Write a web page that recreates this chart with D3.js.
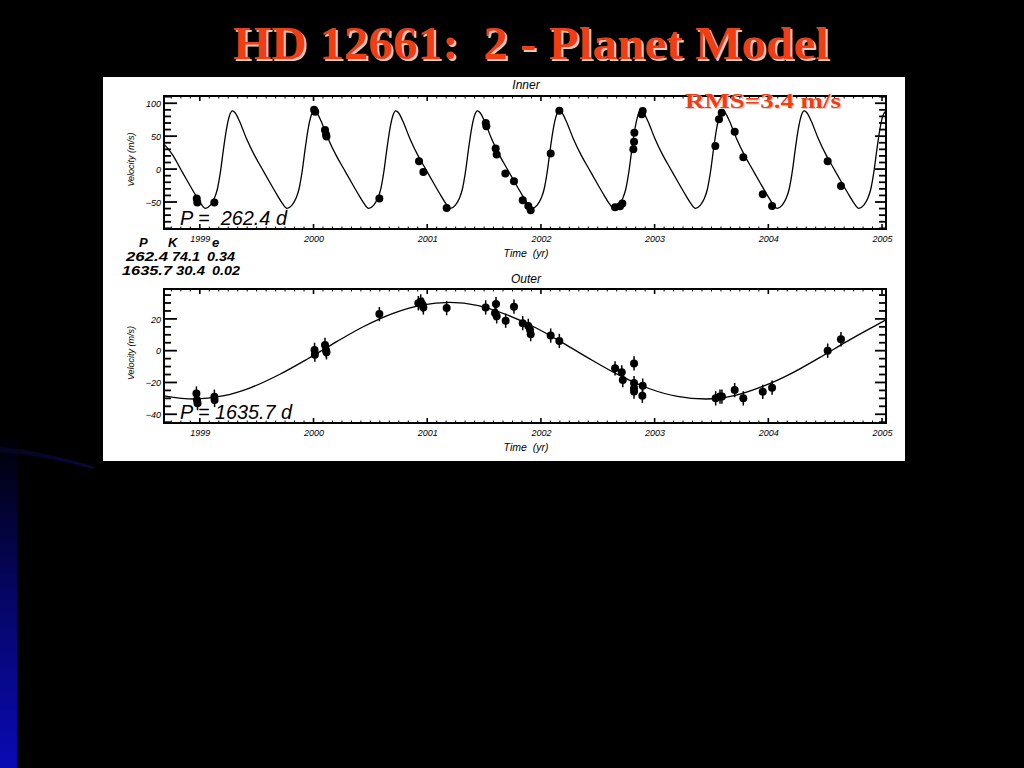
<!DOCTYPE html>
<html><head><meta charset="utf-8">
<script src="https://cdn.jsdelivr.net/npm/d3@7"></script>
<style>html,body{margin:0;padding:0;background:#000;overflow:hidden} svg text{white-space:pre}</style>
</head><body><svg id="c" width="1024" height="768"></svg>
<script>
// ---------------- data ----------------
const titleText = "HD 12661:  2 - Planet Model";
const rmsText = "RMS=3.4 m/s";
const innerTitle = "Inner";
const outerTitle = "Outer";
const xAxisTitle = "Time  (yr)";
const yAxisTitle = "Velocity (m/s)";
const xTickYears = [1999, 2000, 2001, 2002, 2003, 2004, 2005];
const innerYTicks = [-50, 0, 50, 100];
const outerYTicks = [-40, -20, 0, 20];
const innerPeriodLabel = "P =  262.4 d";
const outerPeriodLabel = "P = 1635.7 d";
const paramHeader = ["P", "K", "e"];
const paramRow1 = ["262.4", "74.1", "0.34"];
const paramRow2 = ["1635.7", "30.4", "0.02"];

const innerObsYear = [1998.973, 1998.978, 1999.128, 2000.005, 2000.015, 2000.101, 2000.110, 2000.114,
  2000.579, 2000.928, 2000.966, 2001.171, 2001.515, 2001.520, 2001.602, 2001.611, 2001.687, 2001.763,
  2001.840, 2001.889, 2001.910, 2002.086, 2002.162, 2002.652, 2002.696, 2002.716, 2002.813, 2002.819,
  2002.822, 2002.887, 2002.895, 2003.534, 2003.566, 2003.590, 2003.704, 2003.780, 2003.951, 2004.033,
  2004.522, 2004.639];
const innerObsVel = [-44.8, -50.9, -50.9, 90, 87, 59.3, 52.7, 49.4,
  -44.8, 12.0, -4.3, -59.1, 70, 65, 31.4, 22.3, -6.7, -18.4,
  -47.4, -56.1, -62.7, 23.8, 88.7, -58.1, -56.6, -52.4, 30.3, 41.5,
  55.2, 83.2, 88.3, 34.9, 75.6, 85.7, 56.7, 18.1, -38.3, -56.1,
  12.0, -25.6];

// inner planet: model curve
const innerModelYear = [
  1998.685, 1998.762, 1998.832, 1998.902, 1998.964, 1999.008,
  1999.049, 1999.093, 1999.128, 1999.154, 1999.181, 1999.207, 1999.233, 1999.260, 1999.286, 1999.312, 1999.348, 1999.409, 1999.480, 1999.550, 1999.620, 1999.682, 1999.726,
  1999.767, 1999.811, 1999.846, 1999.872, 1999.899, 1999.925, 1999.951, 1999.978, 2000.004, 2000.030, 2000.066, 2000.127, 2000.198, 2000.268, 2000.338, 2000.400, 2000.444,
  2000.486, 2000.530, 2000.565, 2000.591, 2000.618, 2000.644, 2000.670, 2000.697, 2000.723, 2000.749, 2000.785, 2000.846, 2000.917, 2000.987, 2001.057, 2001.119, 2001.163,
  2001.204, 2001.248, 2001.283, 2001.309, 2001.336, 2001.362, 2001.388, 2001.415, 2001.441, 2001.467, 2001.503, 2001.564, 2001.635, 2001.705, 2001.775, 2001.837, 2001.881,
  2001.923, 2001.967, 2002.002, 2002.028, 2002.055, 2002.081, 2002.107, 2002.134, 2002.160, 2002.186, 2002.222, 2002.283, 2002.354, 2002.424, 2002.494, 2002.556, 2002.600,
  2002.641, 2002.685, 2002.720, 2002.746, 2002.773, 2002.799, 2002.825, 2002.852, 2002.878, 2002.904, 2002.940, 2003.001, 2003.072, 2003.142, 2003.212, 2003.274, 2003.318,
  2003.359, 2003.403, 2003.438, 2003.464, 2003.491, 2003.517, 2003.543, 2003.570, 2003.596, 2003.622, 2003.658, 2003.719, 2003.790, 2003.860, 2003.930, 2003.992, 2004.036,
  2004.078, 2004.122, 2004.157, 2004.183, 2004.210, 2004.236, 2004.262, 2004.289, 2004.315, 2004.341, 2004.377, 2004.438, 2004.509, 2004.579, 2004.649, 2004.711, 2004.755,
  2004.796, 2004.840, 2004.875, 2004.901, 2004.928, 2004.954, 2004.980, 2005.007, 2005.033];
const innerModelVel = [
  38, 21.2, -0.2, -21.5, -39.8, -52.0,
  -59.6, -54.7, -44.4, -30.6, -4.7, 28.8, 59.3, 80.6, 88.3, 85.2, 73.0, 47.0, 21.2, -0.2, -21.5, -39.8, -52.0,
  -59.6, -54.7, -44.4, -30.6, -4.7, 28.8, 59.3, 80.6, 88.3, 85.2, 73.0, 47.0, 21.2, -0.2, -21.5, -39.8, -52.0,
  -59.6, -54.7, -44.4, -30.6, -4.7, 28.8, 59.3, 80.6, 88.3, 85.2, 73.0, 47.0, 21.2, -0.2, -21.5, -39.8, -52.0,
  -59.6, -54.7, -44.4, -30.6, -4.7, 28.8, 59.3, 80.6, 88.3, 85.2, 73.0, 47.0, 21.2, -0.2, -21.5, -39.8, -52.0,
  -59.6, -54.7, -44.4, -30.6, -4.7, 28.8, 59.3, 80.6, 88.3, 85.2, 73.0, 47.0, 21.2, -0.2, -21.5, -39.8, -52.0,
  -59.6, -54.7, -44.4, -30.6, -4.7, 28.8, 59.3, 80.6, 88.3, 85.2, 73.0, 47.0, 21.2, -0.2, -21.5, -39.8, -52.0,
  -59.6, -54.7, -44.4, -30.6, -4.7, 28.8, 59.3, 80.6, 88.3, 85.2, 73.0, 47.0, 21.2, -0.2, -21.5, -39.8, -52.0,
  -59.6, -54.7, -44.4, -30.6, -4.7, 28.8, 59.3, 80.6, 88.3, 85.2, 73.0, 47.0, 21.2, -0.2, -21.5, -39.8, -52.0,
  -59.6, -54.7, -44.4, -30.6, -4.7, 28.8, 59.3, 80.6, 88.3];

const outerObsYear = [1998.970, 1998.975, 1998.980, 1999.128, 1999.130, 2000.009, 2000.012, 2000.101,
  2000.110, 2000.114, 2000.579, 2000.922, 2000.943, 2000.960, 2000.966, 2001.171, 2001.514, 2001.605,
  2001.596, 2001.611, 2001.690, 2001.763, 2001.840, 2001.889, 2001.904, 2001.910, 2002.086, 2002.162,
  2002.652, 2002.711, 2002.720, 2002.819, 2002.819, 2002.819, 2002.819, 2002.895, 2002.892, 2003.537,
  2003.575, 2003.592, 2003.704, 2003.780, 2003.951, 2004.033, 2004.522, 2004.639];
const outerObsVel = [-27, -31, -33, -29, -31, 0.5, -2.5, 3.6,
  0.4, -1.0, 23.0, 29.9, 31.0, 28.9, 27.2, 26.8, 27.2, 29.3,
  23.7, 21.6, 18.9, 27.7, 17.3, 15.6, 13.1, 10.4, 9.5, 6.1,
  -11.1, -13.6, -18.5, -8.0, -20.4, -23.6, -25.7, -22.0, -28.3, -30.0,
  -28.9, -28.9, -24.8, -30.0, -25.9, -23.3, 0.0, 7.2];
const outerObsErr = 4.5;

// outer planet: model curve
const outerModelYear = [1998.685, 1998.95, 1999.20, 1999.45, 1999.70, 1999.95, 2000.20, 2000.45, 2000.70,
  2000.95, 2001.20, 2001.45, 2001.70, 2001.95, 2002.20, 2002.45, 2002.70, 2002.95, 2003.20, 2003.45,
  2003.70, 2003.95, 2004.20, 2004.45, 2004.70, 2004.95, 2005.035];
const outerModelVel = [-28.4, -30.4, -28.5, -23.2, -15.0, -5.1, 5.5, 15.5, 23.5,
  28.7, 30.4, 28.4, 22.6, 14.6, 4.6, -6.0, -15.9, -23.8, -28.8, -30.4,
  -28.3, -22.5, -14.4, -4.4, 6.2, 16.1, 19.4];

// ---------------- drawing ----------------
const svg = d3.select("#c");
svg.append("rect").attr("width", 1024).attr("height", 768).attr("fill", "#000");

// left blue decoration
const defs = svg.append("defs");
const gr = defs.append("linearGradient").attr("id", "blueBar").attr("x1", 0).attr("y1", 0).attr("x2", 0).attr("y2", 1);
gr.append("stop").attr("offset", "0%").attr("stop-color", "#000008");
gr.append("stop").attr("offset", "45%").attr("stop-color", "#050560");
gr.append("stop").attr("offset", "100%").attr("stop-color", "#0a0ab4");
svg.append("rect").attr("x", 0).attr("y", 440).attr("width", 17).attr("height", 328).attr("fill", "url(#blueBar)");
const gr2 = defs.append("linearGradient").attr("id", "streak").attr("x1", 0).attr("y1", 0).attr("x2", 1).attr("y2", 0);
gr2.append("stop").attr("offset", "0%").attr("stop-color", "#05052a");
gr2.append("stop").attr("offset", "100%").attr("stop-color", "#0c0c5a");
svg.append("path").attr("d", "M0,447 C30,450 60,456 95,467 L93,469 C60,460 30,454 0,452 Z")
  .attr("fill", "url(#streak)").attr("opacity", 0.7);

// white picture area
svg.append("rect").attr("x", 103).attr("y", 77).attr("width", 802).attr("height", 384).attr("fill", "#fff");

const x = d3.scaleLinear().domain([1998.685, 2005.035]).range([164, 886]);
const sansIt = "'Liberation Sans', Arial, sans-serif";

function drawPanel(cfg) {
  const { y, ticks, minorStep, obsYear, obsVel, modelYear, modelVel, title, titleY, errBars, clipId } = cfg;
  const [yb, yt] = y.range();
  const g = svg.append("g");
  defs.append("clipPath").attr("id", clipId).append("rect")
    .attr("x", 164).attr("y", yt).attr("width", 722).attr("height", yb - yt);

  // model curve
  const line = d3.line().x(d => x(d[0])).y(d => y(d[1])).curve(d3.curveMonotoneX);
  g.append("path").datum(d3.zip(modelYear, modelVel)).attr("d", line)
    .attr("fill", "none").attr("stroke", "#000").attr("stroke-width", 1.3)
    .attr("clip-path", `url(#${clipId})`);

  // error bars
  if (errBars) {
    g.selectAll(".eb").data(d3.zip(obsYear, obsVel)).join("line")
      .attr("x1", d => x(d[0])).attr("x2", d => x(d[0]))
      .attr("y1", d => y(d[1] - errBars)).attr("y2", d => y(d[1] + errBars))
      .attr("stroke", "#000").attr("stroke-width", 1.5);
  }
  // dots
  g.selectAll(".dot").data(d3.zip(obsYear, obsVel)).join("circle")
    .attr("cx", d => x(d[0])).attr("cy", d => y(d[1])).attr("r", 4).attr("fill", "#000");

  // y ticks (left and right, inward)
  const [d0, d1] = y.domain();
  const minors = d3.range(Math.ceil(d0 / minorStep) * minorStep, d1 + 0.001, minorStep);
  minors.forEach(v => {
    const major = ticks.includes(v);
    const len = major ? 13 : 7;
    g.append("line").attr("x1", 164).attr("x2", 164 + len).attr("y1", y(v)).attr("y2", y(v))
      .attr("stroke", "#000").attr("stroke-width", 1.8);
    g.append("line").attr("x1", 886).attr("x2", 886 - (major ? 11 : 7)).attr("y1", y(v)).attr("y2", y(v))
      .attr("stroke", "#000").attr("stroke-width", 1.8);
  });
  // x ticks (top and bottom, inward)
  const months = d3.range(1998 + 9 / 12, 2005.04, 1 / 12);
  months.forEach(m => {
    if (m < 1998.685 || m > 2005.035) return;
    const major = Math.abs(m - Math.round(m)) < 1e-6;
    const len = major ? 5 : 2.5;
    g.append("line").attr("x1", x(m)).attr("x2", x(m)).attr("y1", yb).attr("y2", yb - len)
      .attr("stroke", "#000").attr("stroke-width", major ? 1.6 : 1);
    g.append("line").attr("x1", x(m)).attr("x2", x(m)).attr("y1", yt).attr("y2", yt + len)
      .attr("stroke", "#000").attr("stroke-width", major ? 1.6 : 1);
  });

  // box
  g.append("rect").attr("x", 164).attr("y", yt).attr("width", 722).attr("height", yb - yt)
    .attr("fill", "none").attr("stroke", "#000").attr("stroke-width", 2);

  // y tick labels via axis
  const ax = d3.axisLeft(y).tickValues(ticks).tickSize(0).tickPadding(0).tickFormat(d3.format("d"));
  const axg = g.append("g").attr("transform", "translate(161,0)").call(ax);
  axg.select(".domain").remove();
  axg.selectAll("text").attr("font-family", sansIt).attr("font-style", "italic")
    .attr("font-size", 9).attr("fill", "#000").attr("dy", "0.35em");

  // x tick labels via axis
  const xa = d3.axisBottom(x).tickValues(xTickYears).tickSize(0).tickPadding(0).tickFormat(d3.format("d"));
  const xg = g.append("g").attr("transform", `translate(0,${yb + 7})`).call(xa);
  xg.select(".domain").remove();
  xg.selectAll("text").attr("font-family", sansIt).attr("font-style", "italic")
    .attr("font-size", 9).attr("fill", "#000").attr("dy", "0.71em");

  // titles
  g.append("text").attr("x", 526).attr("y", titleY).attr("text-anchor", "middle")
    .attr("font-family", sansIt).attr("font-style", "italic").attr("font-size", 12).text(title);
  g.append("text").attr("x", 526).attr("y", yb + 28).attr("text-anchor", "middle")
    .attr("font-family", sansIt).attr("font-style", "italic").attr("font-size", 10.5).text(xAxisTitle);
  g.append("text").attr("transform", `translate(134,${(yt + yb) / 2 - 3}) rotate(-90)`)
    .attr("text-anchor", "middle").attr("font-family", sansIt).attr("font-style", "italic")
    .attr("font-size", 9).text(yAxisTitle);
}

const yInner = d3.scaleLinear().domain([-91, 111]).range([229, 96]);
const yOuter = d3.scaleLinear().domain([-45.5, 38.8]).range([423, 289]);

drawPanel({ y: yInner, ticks: innerYTicks, minorStep: 10, obsYear: innerObsYear, obsVel: innerObsVel,
  modelYear: innerModelYear, modelVel: innerModelVel, title: innerTitle, titleY: 89, errBars: 0, clipId: "cpi" });
drawPanel({ y: yOuter, ticks: outerYTicks, minorStep: 5, obsYear: outerObsYear, obsVel: outerObsVel,
  modelYear: outerModelYear, modelVel: outerModelVel, title: outerTitle, titleY: 283, errBars: outerObsErr, clipId: "cpo" });

// period labels
svg.append("text").attr("x", 180).attr("y", 225).attr("font-family", sansIt).attr("font-style", "italic")
  .attr("font-size", 21).attr("textLength", 107).attr("lengthAdjust", "spacingAndGlyphs").text(innerPeriodLabel);
svg.append("text").attr("x", 180).attr("y", 419).attr("font-family", sansIt).attr("font-style", "italic")
  .attr("font-size", 21).attr("textLength", 112).attr("lengthAdjust", "spacingAndGlyphs").text(outerPeriodLabel);

// parameter table
const pt = svg.append("g").attr("font-family", sansIt).attr("font-style", "italic").attr("font-weight", "bold")
  .attr("font-size", 13).attr("fill", "#000");
const hdrX = [139, 168, 212];
paramHeader.forEach((t, i) => pt.append("text").attr("x", hdrX[i]).attr("y", 247).text(t));
const r1X = [126, 172, 207], r1W = [42, 28, 28];
paramRow1.forEach((t, i) => pt.append("text").attr("x", r1X[i]).attr("y", 261)
  .attr("textLength", r1W[i]).attr("lengthAdjust", "spacingAndGlyphs").text(t));
const r2X = [122, 176, 212], r2W = [50, 29, 28];
paramRow2.forEach((t, i) => pt.append("text").attr("x", r2X[i]).attr("y", 275)
  .attr("textLength", r2W[i]).attr("lengthAdjust", "spacingAndGlyphs").text(t));

// red serif texts with pale shadow
function redText(t, xx, yy, size, len, off) {
  svg.append("text").attr("x", xx + off).attr("y", yy + off).attr("font-family", "'Liberation Serif', 'DejaVu Serif', serif")
    .attr("font-weight", "bold").attr("font-size", size).attr("textLength", len).attr("lengthAdjust", "spacingAndGlyphs")
    .attr("fill", "#d9cfc6").text(t);
  svg.append("text").attr("x", xx).attr("y", yy).attr("font-family", "'Liberation Serif', 'DejaVu Serif', serif")
    .attr("font-weight", "bold").attr("font-size", size).attr("textLength", len).attr("lengthAdjust", "spacingAndGlyphs")
    .attr("fill", "#f23c12").text(t);
}
redText(rmsText, 685, 108, 21, 156, 1.2);
redText(titleText, 233, 59, 46, 596, 2);
</script></body></html>
